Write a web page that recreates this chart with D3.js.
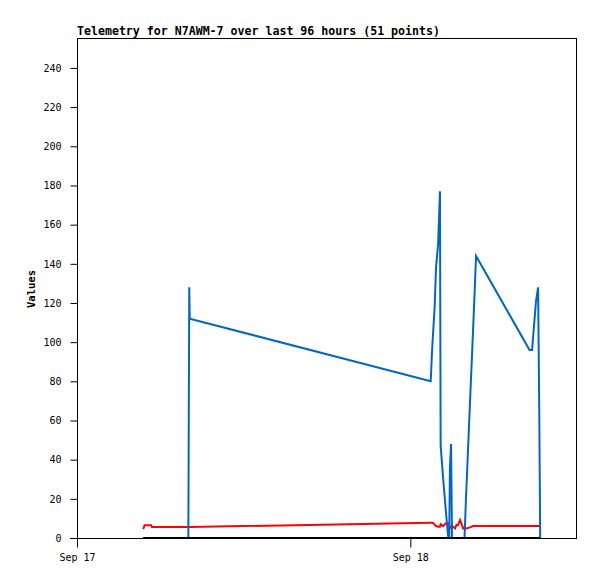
<!DOCTYPE html>
<html>
<head>
<meta charset="utf-8">
<script src="https://cdn.jsdelivr.net/npm/d3@7"></script>
<style>
  html, body { margin: 0; padding: 0; background: #fff; }
  svg { display: block; }
  .tick text { font-family: "DejaVu Sans Mono", monospace; font-size: 10px; fill: #000; }
</style>
</head>
<body>
<svg id="chart" width="597" height="579"></svg>
<script>
// ---- data ----
const titleText = "Telemetry for N7AWM-7 over last 96 hours (51 points)";
const yAxisLabel = "Values";

const times = [
  "09-17 04:46", "09-17 04:52", "09-17 05:20", "09-17 05:24",
  "09-17 08:01", "09-17 08:03", "09-17 08:05", "09-17 08:07",
  "09-18 01:28", "09-18 01:34", "09-18 01:39", "09-18 01:45", "09-18 01:51",
  "09-18 02:00", "09-18 02:08", "09-18 02:11", "09-18 02:22", "09-18 02:34",
  "09-18 02:44", "09-18 02:48", "09-18 02:51", "09-18 02:56", "09-18 03:00",
  "09-18 03:13", "09-18 03:19", "09-18 03:26", "09-18 03:35", "09-18 03:48",
  "09-18 03:54", "09-18 04:00", "09-18 04:18", "09-18 04:31", "09-18 04:44",
  "09-18 08:35", "09-18 08:46", "09-18 08:54", "09-18 09:03", "09-18 09:12",
  "09-18 09:17", "09-18 09:21"
];

const blueValues = [
  0, 0, 0, 0,
  0, 64, 128, 112,
  80, 96, 106, 118, 138,
  150, 177, 47, 30, 13,
  0, 0, 36, 48, 0,
  0, 0, 0, 0, 0,
  0, 19, 70, 106, 144,
  96, 96, 108, 121, 128,
  64, 0
];

const redValues = [
  4.5, 6.5, 6.5, 5.6,
  5.6, 5.6, 5.6, 5.6,
  7.8, 7.8, 7.6, 6.8, 6.1,
  5.8, 5.8, 7.1, 6.1, 7.5,
  7.5, 6.6, 5.8, 5.1, 6.1,
  4.9, 6.6, 6.6, 9.2, 4.9,
  5.4, 4.8, 5.4, 6.1, 6.1,
  6.1, 6.1, 6.1, 6.1, 6.1,
  6.1, 6.1
];

const blackValues = times.map(() => 0);

const yTicks = [0, 20, 40, 60, 80, 100, 120, 140, 160, 180, 200, 220, 240];
const xDomain = ["09-17 00:00", "09-18 12:00"];
const yDomain = [0, 255.3];

// ---- chart ----
const parse = d3.timeParse("%m-%d %H:%M");
const svg = d3.select("#chart");
const mLeft = 77, mRight = 577, mTop = 38, mBottom = 538;

const x = d3.scaleTime().domain(xDomain.map(parse)).range([mLeft, mRight]);
const y = d3.scaleLinear().domain(yDomain).range([mBottom, mTop]);

const pts = times.map((t, i) => ({ t: parse(t), b: blueValues[i], r: redValues[i], k: blackValues[i] }));

// title
svg.append("text")
  .attr("x", mLeft).attr("y", 35)
  .style("font-family", "'DejaVu Sans Mono', monospace")
  .style("font-size", "11.6px").style("font-weight", "bold")
  .text(titleText);

// frame
svg.append("rect")
  .attr("x", mLeft + 0.5).attr("y", mTop + 0.5)
  .attr("width", mRight - mLeft - 1).attr("height", mBottom - mTop)
  .attr("fill", "none").attr("stroke", "#000").attr("stroke-width", 1);

// y axis
const yAxis = svg.append("g")
  .attr("transform", `translate(${mLeft + 0.5},0)`)
  .call(d3.axisLeft(y).tickValues(yTicks).tickSize(7).tickPadding(9).tickFormat(d3.format("d")));
yAxis.select(".domain").remove();
yAxis.selectAll("line").attr("stroke", "#000");

// x axis
const xAxis = svg.append("g")
  .attr("transform", `translate(0,${mBottom + 0.5})`)
  .call(d3.axisBottom(x).ticks(d3.timeDay.every(1)).tickSize(9).tickPadding(6).tickFormat(d3.timeFormat("%b %d")));
xAxis.select(".domain").attr("d", `M${mLeft - 7},0H${mRight}`).attr("stroke", "#000");
xAxis.selectAll("line").attr("stroke", "#000");

// y label
svg.append("text")
  .attr("transform", `translate(35,289) rotate(-90)`)
  .attr("text-anchor", "middle")
  .style("font-family", "'DejaVu Sans Mono', monospace")
  .style("font-size", "10.5px").style("font-weight", "bold")
  .text(yAxisLabel);

// series
const series = [
  { key: "r", color: "#ff0000" },
  { key: "b", color: "#0066cc" },
  { key: "k", color: "#000000" }
];
series.forEach(s => {
  svg.append("path")
    .attr("fill", "none")
    .attr("stroke", s.color)
    .attr("stroke-width", 2)
    .attr("stroke-linejoin", "miter")
    .attr("d", d3.line().x(d => x(d.t)).y(d => y(d[s.key]))(pts));
});
</script>
</body>
</html>
